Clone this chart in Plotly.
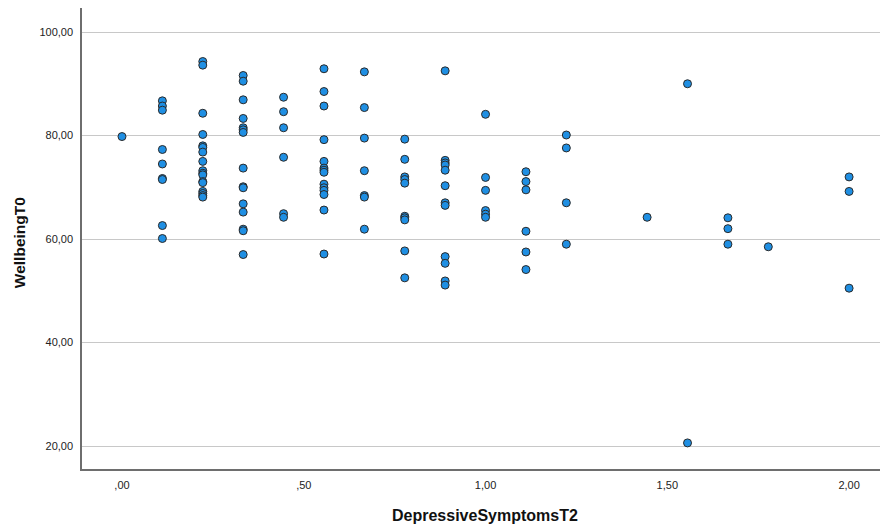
import plotly.graph_objects as go

# x levels (mean of 9 items -> multiples of 1/9) and WellbeingT0 values per level
x_levels = [0, 1/9, 2/9, 3/9, 4/9, 5/9, 6/9, 7/9, 8/9, 1.0, 10/9, 11/9, 13/9, 14/9, 15/9, 16/9, 2.0]
wellbeing_by_level = [
    [79.8],
    [86.7, 85.7, 84.9, 77.3, 74.5, 71.7, 71.5, 62.6, 60.1],
    [94.3, 93.6, 84.3, 80.2, 78.0, 77.7, 76.8, 75.0, 73.2, 72.7, 72.4, 71.1, 70.9, 69.2, 68.8, 68.4, 68.1],
    [91.6, 90.5, 86.9, 83.3, 81.5, 81.1, 80.6, 73.7, 70.1, 69.9, 66.8, 65.2, 61.9, 61.6, 57.0],
    [87.4, 84.6, 81.5, 75.8, 64.9, 64.2],
    [92.9, 88.5, 85.7, 79.2, 75.0, 73.7, 73.3, 72.9, 70.6, 69.9, 69.4, 68.6, 65.6, 57.1],
    [92.3, 85.4, 79.5, 73.2, 68.4, 68.1, 61.9],
    [79.3, 75.4, 72.0, 71.5, 70.8, 64.4, 64.1, 63.7, 57.7, 52.5],
    [92.5, 75.2, 74.7, 74.3, 73.3, 70.3, 67.0, 66.5, 56.6, 55.3, 51.9, 51.1],
    [84.1, 71.9, 69.4, 65.5, 64.8, 64.2],
    [73.0, 71.1, 69.5, 61.5, 57.5, 54.1],
    [80.1, 77.6, 67.0, 59.0],
    [64.2],
    [90.0, 20.6],
    [64.1, 62.0, 59.0],
    [58.5],
    [72.0, 69.2, 50.5],
]

x_tick_vals = [0, 0.5, 1.0, 1.5, 2.0]
x_tick_text = [",00", ",50", "1,00", "1,50", "2,00"]
y_tick_vals = [20, 40, 60, 80, 100]
y_tick_text = ["20,00", "40,00", "60,00", "80,00", "100,00"]
x_title = "DepressiveSymptomsT2"
y_title = "WellbeingT0"

xs, ys = [], []
for xv, vals in zip(x_levels, wellbeing_by_level):
    for v in vals:
        xs.append(xv)
        ys.append(v)

FONT = "Arial, Liberation Sans, sans-serif"

fig = go.Figure()
fig.add_trace(go.Scatter(
    x=xs, y=ys, mode="markers",
    marker=dict(size=8, color="#1f8fe3", line=dict(color="#2a2a2a", width=1)),
    hoverinfo="x+y", showlegend=False,
))

fig.update_layout(
    width=880, height=528,
    margin=dict(l=82, r=0, t=8, b=59),
    paper_bgcolor="white", plot_bgcolor="white",
    font=dict(family=FONT, size=11, color="#222222"),
    xaxis=dict(
        range=[-0.110, 2.085], tickvals=x_tick_vals, ticktext=x_tick_text,
        showgrid=False, zeroline=False, showline=True, linecolor="#6e6e6e", linewidth=1.5,
        ticks="", ticklabelstandoff=5, tickfont=dict(size=11, color="#222222"),
    ),
    yaxis=dict(
        range=[15.56, 104.64], tickvals=y_tick_vals, ticktext=y_tick_text,
        showgrid=True, gridcolor="#c8c8c8", gridwidth=1.2, zeroline=False,
        showline=True, linecolor="#6e6e6e", linewidth=1.5,
        ticks="", ticklabelstandoff=5, tickfont=dict(size=11, color="#222222"),
    ),
    annotations=[
        dict(text="<b>" + x_title + "</b>", xref="paper", yref="paper",
             x=0.505, y=-0.0998, showarrow=False, xanchor="center", yanchor="middle",
             font=dict(family=FONT, size=16, color="#111111")),
        dict(text="<b>" + y_title + "</b>", xref="paper", yref="paper",
             x=-0.0783, y=0.491, showarrow=False, xanchor="center", yanchor="middle",
             textangle=-90, font=dict(family=FONT, size=15.5, color="#111111")),
    ],
)

fig.write_html("out.html")
